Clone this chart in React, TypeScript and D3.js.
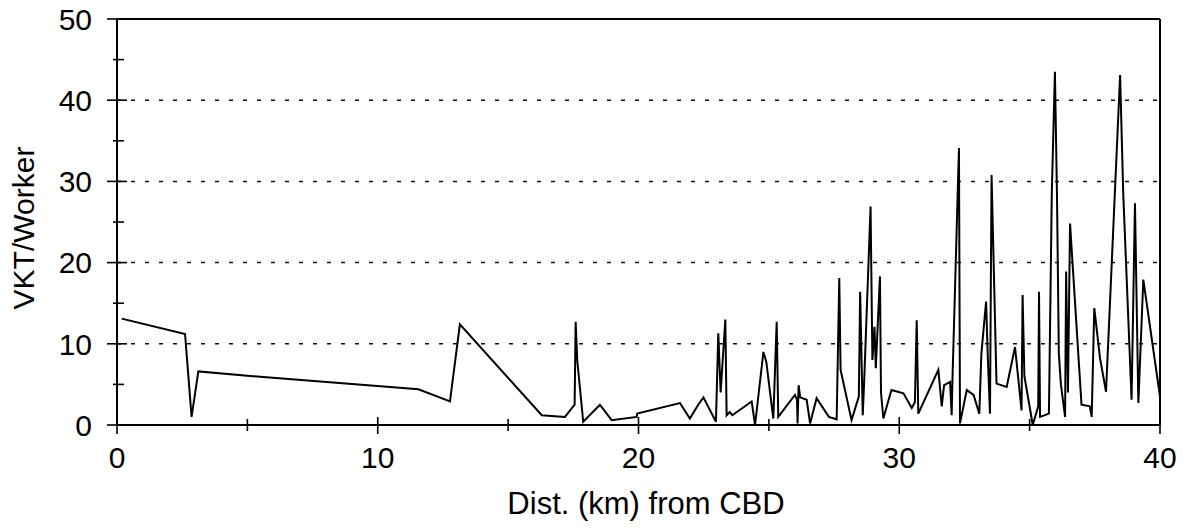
import React, { useEffect, useRef } from 'react';
import * as d3 from 'd3';

// distance from CBD (km) and VKT per worker
const dist = [
  0.18, 2.61, 2.86, 3.12, 5.61, 11.56, 12.77, 13.15, 16.29, 17.18,
  17.55, 17.59, 17.65, 17.88, 18.52, 18.97, 19.93, 19.95, 21.59, 21.97,
  22.29, 22.49, 22.97, 23.06, 23.15, 23.33, 23.38, 23.5, 23.6, 24.34,
  24.47, 24.79, 24.9, 25.17, 25.3, 25.36, 26.0, 26.08, 26.1, 26.14,
  26.2, 26.45, 26.58, 26.83, 27.3, 27.6, 27.7, 27.75, 28.17, 28.45,
  28.5, 28.6, 28.65, 28.9, 28.97, 29.05, 29.1, 29.26, 29.3, 29.39,
  29.7, 30.16, 30.48, 30.6, 30.67, 30.73, 31.5, 31.63, 31.72, 31.95,
  32.01, 32.04, 32.29, 32.33, 32.59, 32.85, 33.07, 33.15, 33.33, 33.4,
  33.48, 33.54, 33.73, 34.12, 34.44, 34.69, 34.73, 34.8, 35.12, 35.33,
  35.36, 35.4, 35.74, 35.85, 35.97, 36.05, 36.12, 36.2, 36.36, 36.4,
  36.47, 36.55, 36.99, 37.31, 37.38, 37.48, 37.7, 37.83, 37.93, 38.47,
  38.59, 38.91, 39.04, 39.17, 39.36, 40.0
];
const vkt = [
  13.1, 11.2, 1.0, 6.6, 5.9, 4.4, 2.9, 12.4, 1.2, 1.0,
  2.5, 12.7, 8.0, 0.4, 2.5, 0.6, 1.0, 1.4, 2.7, 0.8,
  2.5, 3.4, 0.4, 11.3, 4.0, 13.0, 1.2, 1.6, 1.2, 2.9,
  0.0, 9.0, 7.8, 0.8, 12.7, 1.0, 3.7, 3.1, 0.2, 4.9,
  3.4, 3.1, 0.2, 3.3, 1.0, 0.7, 18.1, 6.8, 0.6, 3.5,
  16.4, 1.2, 5.0, 26.9, 8.0, 12.1, 7.0, 18.3, 4.0, 0.8,
  4.3, 3.9, 2.1, 2.8, 12.9, 1.4, 6.8, 2.3, 4.9, 5.3,
  1.2, 5.5, 34.1, 0.2, 4.3, 3.7, 1.4, 8.8, 15.2, 8.0,
  1.4, 30.8, 5.1, 4.7, 9.6, 1.8, 16.0, 6.0, 0.0, 2.3,
  16.4, 1.0, 1.4, 28.5, 43.5, 28.1, 8.8, 5.0, 1.0, 18.9,
  4.0, 24.8, 2.5, 2.3, 1.0, 14.4, 8.2, 5.9, 4.1, 43.1,
  28.5, 3.1, 27.3, 2.7, 17.9, 3.5
];

const xMajor = [0, 10, 20, 30, 40];
const xMinor = [5, 15, 25, 35];
const yMajor = [0, 10, 20, 30, 40, 50];
const yMinor = [5, 15, 25, 35, 45];
const gridLevels = [10, 20, 30, 40];

const W = 1183, H = 528;
const FONT = '"Liberation Sans", Arial, sans-serif';

export default function App() {
  const ref = useRef<SVGSVGElement>(null);

  useEffect(() => {
    const svg = d3.select(ref.current);
    svg.selectAll('*').remove();

    const left = 117, right = 1160, top = 19, bottom = 425;
    const x = d3.scaleLinear().domain([0, 40]).range([left, right]);
    const y = d3.scaleLinear().domain([0, 50]).range([bottom, top]);

    svg.append('rect').attr('width', W).attr('height', H).attr('fill', '#fff');

    // dotted gridlines
    svg.selectAll('.grid').data(gridLevels).enter().append('line')
      .attr('x1', left).attr('x2', right).attr('y1', d => y(d)).attr('y2', d => y(d))
      .attr('stroke', '#111').attr('stroke-width', 1.5).attr('stroke-dasharray', '4 10');

    // frame
    svg.append('line').attr('x1', left).attr('x2', right).attr('y1', top).attr('y2', top).attr('stroke', '#000').attr('stroke-width', 2);
    svg.append('line').attr('x1', right).attr('x2', right).attr('y1', top).attr('y2', bottom).attr('stroke', '#000').attr('stroke-width', 2);
    svg.append('line').attr('x1', left).attr('x2', left).attr('y1', top).attr('y2', bottom).attr('stroke', '#000').attr('stroke-width', 2);
    svg.append('line').attr('x1', left).attr('x2', right).attr('y1', bottom).attr('y2', bottom).attr('stroke', '#000').attr('stroke-width', 2);

    // y ticks
    svg.selectAll('.ymaj').data(yMajor).enter().append('line')
      .attr('x1', left - 10).attr('x2', left + 10).attr('y1', d => y(d)).attr('y2', d => y(d))
      .attr('stroke', '#000').attr('stroke-width', 1.6);
    svg.selectAll('.ymin').data(yMinor).enter().append('line')
      .attr('x1', left - 4).attr('x2', left + 7).attr('y1', d => y(d)).attr('y2', d => y(d))
      .attr('stroke', '#000').attr('stroke-width', 1.6);
    svg.selectAll('.ylab').data(yMajor).enter().append('text')
      .attr('x', 92).attr('y', d => y(d)).attr('dy', '0.36em').attr('text-anchor', 'end')
      .attr('font-family', FONT).attr('font-size', 30).attr('fill', '#000').text(d => d);

    // x ticks
    svg.selectAll('.xmaj').data(xMajor).enter().append('line')
      .attr('x1', d => x(d)).attr('x2', d => x(d)).attr('y1', bottom - 8).attr('y2', bottom + 9)
      .attr('stroke', '#000').attr('stroke-width', 1.6);
    svg.selectAll('.xmin').data(xMinor).enter().append('line')
      .attr('x1', d => x(d)).attr('x2', d => x(d)).attr('y1', bottom - 6).attr('y2', bottom + 6)
      .attr('stroke', '#000').attr('stroke-width', 1.6);
    svg.selectAll('.xlab').data(xMajor).enter().append('text')
      .attr('x', d => x(d)).attr('y', 468).attr('text-anchor', 'middle')
      .attr('font-family', FONT).attr('font-size', 30).attr('fill', '#000').text(d => d);

    // series
    const pts = dist.map((d, i) => [d, vkt[i]] as [number, number]);
    const line = d3.line<[number, number]>().x(d => x(d[0])).y(d => y(d[1]));
    svg.append('path').datum(pts).attr('d', line).attr('fill', 'none')
      .attr('stroke', '#000').attr('stroke-width', 2).attr('stroke-linejoin', 'miter');

    // axis titles
    svg.append('text').attr('x', 646).attr('y', 514).attr('text-anchor', 'middle')
      .attr('font-family', FONT).attr('font-size', 31).attr('fill', '#000').text('Dist. (km) from CBD');
    svg.append('text').attr('transform', 'translate(34,228) rotate(-90)').attr('text-anchor', 'middle')
      .attr('font-family', FONT).attr('font-size', 30).attr('fill', '#000').text('VKT/Worker');
  }, []);

  return (
    <svg ref={ref} width={W} height={H}
      style={{ position: 'fixed', left: 0, top: 0, display: 'block' }} />
  );
}
